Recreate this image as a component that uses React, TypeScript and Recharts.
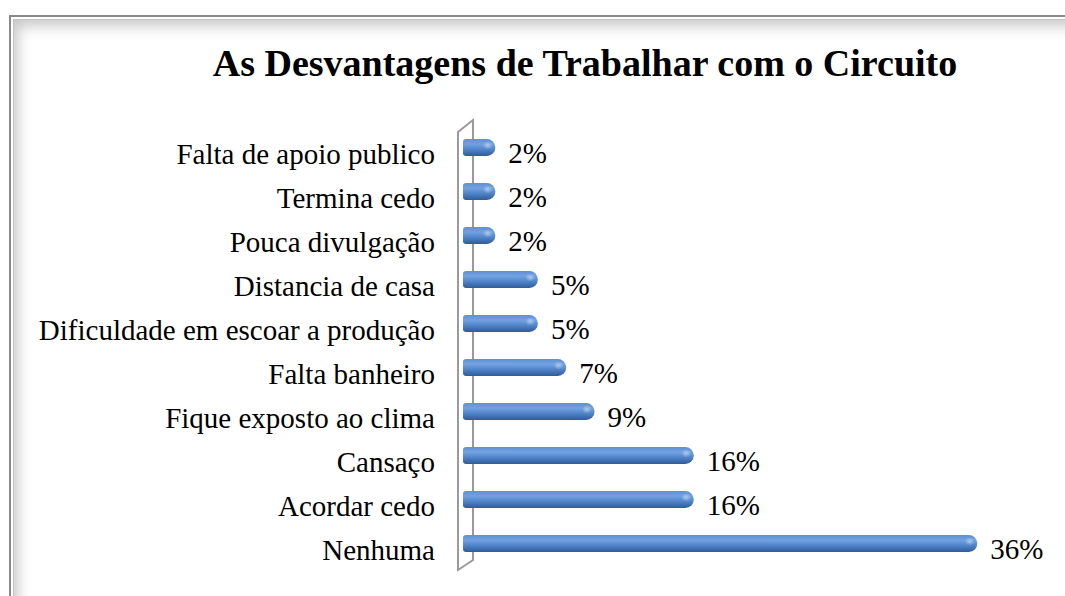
import { BarChart, Bar, XAxis, YAxis, LabelList, Customized } from "recharts"

const categories = [
  "Falta de apoio publico",
  "Termina cedo",
  "Pouca divulgação",
  "Distancia de casa",
  "Dificuldade em escoar a produção",
  "Falta banheiro",
  "Fique exposto ao clima",
  "Cansaço",
  "Acordar cedo",
  "Nenhuma",
]
const values = [2, 2, 2, 5, 5, 7, 9, 16, 16, 36]
const title = "As Desvantagens de Trabalhar com o Circuito"

const data = categories.map((name, i) => ({ name, value: values[i] }))

const W = 1065
const H = 596
const MARGIN = { top: 125, right: 35, left: 23, bottom: 31 }
const YW = 440
const PLOT_L = MARGIN.left + YW
const PLOT_T = MARGIN.top
const PLOT_B = H - MARGIN.bottom
const CAP = 4
const FONT = "'Liberation Serif', 'Times New Roman', serif"

const CylinderBar = (props: any) => {
  const { x, y, width, height } = props
  const w = width + CAP
  const r = height / 2
  const d = `M${x + 3},${y} H${x + w - r} A${r},${r} 0 0 1 ${x + w - r},${y + height} H${x + 3} Q${x},${y + height} ${x},${y + height - 3} V${y + 3} Q${x},${y} ${x + 3},${y} Z`
  return (
    <g>
      <path d={d} fill="url(#barGrad)" />
      <ellipse cx={x + w - r * 0.9} cy={y + r * 0.75} rx={r * 0.6} ry={r * 0.5} fill="url(#capGlow)" />
    </g>
  )
}

const ValueLabel = (props: any) => {
  const { x, y, width, height, value } = props
  return (
    <text x={x + width + CAP + 13} y={y + height / 2 + 15} fontSize={29} fontFamily={FONT} fill="#000">
      {`${value}%`}
    </text>
  )
}

const CatTick = (props: any) => {
  const { x, y, payload } = props
  return (
    <text x={x} y={y + 17} textAnchor="end" fontSize={29} fontFamily={FONT} fill="#000">
      {payload.value}
    </text>
  )
}

const Wall = () => {
  const L = PLOT_L
  const pts = [
    [L - 5, PLOT_T + 7],
    [L + 10, PLOT_T - 5],
    [L + 10, PLOT_B - 5],
    [L - 5, PLOT_B + 5],
  ]
  return (
    <g>
      <text x={585} y={76} textAnchor="middle" fontSize={38} fontWeight="bold" fontFamily={FONT} fill="#000">
        {title}
      </text>
      <polygon points={pts.map((p) => p.join(",")).join(" ")} fill="none" stroke="#9a9a9a" strokeWidth={2} />
    </g>
  )
}

export default function App() {
  return (
    <div style={{ position: "absolute", left: 0, top: 0, width: W, height: H, overflow: "hidden", background: "#fff" }}>
      <div
        style={{
          position: "absolute",
          left: 9,
          top: 15,
          width: W + 20,
          height: H + 20,
          border: "2px solid #8a8a8a",
          boxSizing: "border-box",
        }}
      >
        <div
          style={{
            position: "absolute",
            inset: 2,
            border: "1px solid #c4c4c4",
            boxShadow: "inset 12px 14px 14px -8px rgba(0,0,0,0.22)",
          }}
        />
      </div>
      <div style={{ position: "absolute", left: 0, top: 0 }}>
        <BarChart width={W} height={H} data={data} layout="vertical" margin={MARGIN}>
          <defs>
            <linearGradient id="barGrad" x1="0" y1="0" x2="0" y2="1">
              <stop offset="0%" stopColor="#5e8fd4" />
              <stop offset="30%" stopColor="#72a2e2" />
              <stop offset="65%" stopColor="#4d80c6" />
              <stop offset="100%" stopColor="#305b96" />
            </linearGradient>
            <radialGradient id="capGlow">
              <stop offset="0%" stopColor="#ffffff" stopOpacity={0.45} />
              <stop offset="100%" stopColor="#ffffff" stopOpacity={0} />
            </radialGradient>
          </defs>
          <XAxis type="number" domain={[0, 40]} hide />
          <YAxis
            type="category"
            dataKey="name"
            width={YW}
            axisLine={false}
            tickLine={false}
            tickSize={0}
            tickMargin={28}
            tick={<CatTick />}
            interval={0}
          />
          <Customized component={Wall} />
          <Bar dataKey="value" barSize={17} shape={<CylinderBar />} isAnimationActive={false}>
            <LabelList dataKey="value" content={<ValueLabel />} />
          </Bar>
        </BarChart>
      </div>
    </div>
  )
}
